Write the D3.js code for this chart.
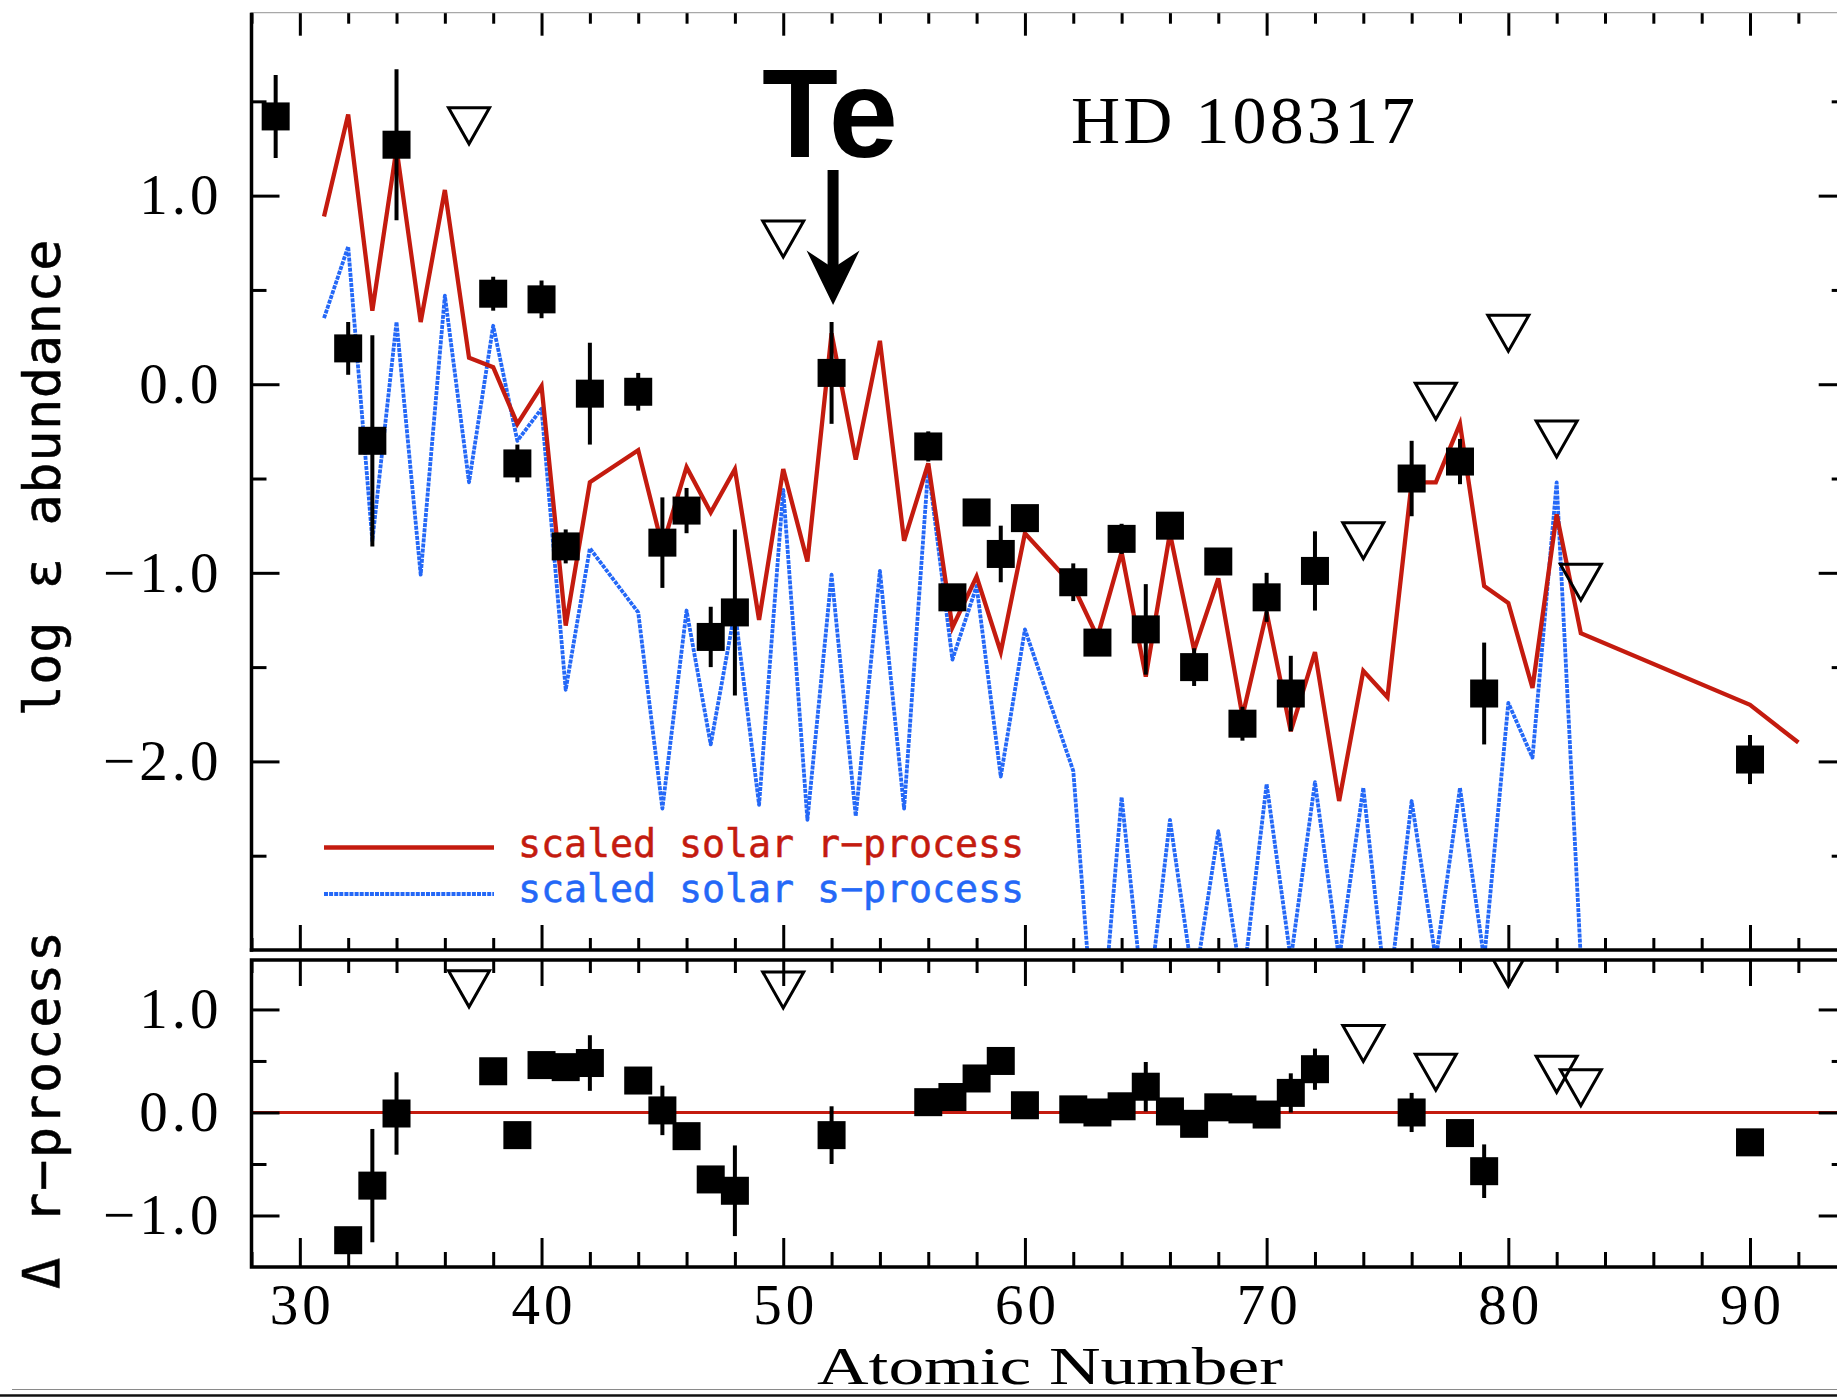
<!DOCTYPE html>
<html><head><meta charset="utf-8">
<script src="https://cdn.jsdelivr.net/npm/d3@7"></script>
<style>
html,body{margin:0;padding:0;background:#fff;}
svg{display:block;}
</style></head><body>
<svg id="chart" width="1837" height="1397"></svg>
<script>
// ---------- DATA ----------
// observed abundances (filled squares) - top panel
const obsZ   = [29,32,33,34,38,39,40,41,42,44,45,46,47,48,52,56,57,58,59,60,62,63,64,65,66,67,68,69,70,71,72,76,78,79,90];
const obsVal = [1.42,0.19,-0.30,1.27,0.48,-0.42,0.45,-0.86,-0.05,-0.04,-0.84,-0.67,-1.34,-1.21,0.06,-0.33,-1.13,-0.68,-0.90,-0.71,-1.05,-1.37,-0.82,-1.30,-0.75,-1.50,-0.94,-1.80,-1.13,-1.64,-0.99,-0.50,-0.41,-1.64,-1.99];
const obsErr = [0.22,0.14,0.56,0.40,0.09,0.10,0.10,0.09,0.27,0.10,0.24,0.12,0.16,0.44,0.27,0.08,0.05,0.05,0.15,0.05,0.10,0.05,0.08,0.24,0.07,0.10,0.07,0.09,0.13,0.20,0.21,0.20,0.12,0.27,0.13];
// upper limits (open triangles) - top panel
const limZ   = [37,50,74,77,80,82,83];
const limVal = [1.37,0.77,-0.83,-0.09,0.27,-0.29,-1.05];
// scaled solar r-process
const rZ   = [31,32,33,34,35,36,37,38,39,40,41,42,44,45,46,47,48,49,50,51,52,53,54,55,56,57,58,59,60,62,63,64,65,66,67,68,69,70,71,72,73,74,75,76,77,78,79,80,81,82,83,90,92];
const rVal = [0.89,1.43,0.39,1.25,0.33,1.03,0.14,0.09,-0.21,-0.01,-1.28,-0.52,-0.35,-0.86,-0.44,-0.68,-0.45,-1.25,-0.45,-0.94,0.27,-0.40,0.23,-0.83,-0.42,-1.29,-1.02,-1.42,-0.79,-1.07,-1.34,-0.89,-1.55,-0.79,-1.41,-1.03,-1.76,-1.21,-1.84,-1.42,-2.21,-1.52,-1.66,-0.52,-0.52,-0.21,-1.07,-1.16,-1.61,-0.69,-1.32,-1.70,-1.90];
// scaled solar s-process
const sZ   = [31,32,33,34,35,36,37,38,39,40,41,42,44,45,46,47,48,49,50,51,52,53,54,55,56,57,58,59,60,62,63,64,65,66,67,68,69,70,71,72,73,74,75,76,77,78,79,80,81,82,83];
const sVal = [0.35,0.73,-0.83,0.33,-1.01,0.47,-0.52,0.31,-0.30,-0.13,-1.62,-0.87,-1.21,-2.25,-1.20,-1.91,-1.20,-2.23,-0.56,-2.31,-1.01,-2.29,-0.99,-2.25,-0.44,-1.46,-1.07,-2.08,-1.30,-2.05,-3.70,-2.19,-3.40,-2.31,-3.20,-2.37,-3.20,-2.12,-3.05,-2.11,-3.05,-2.14,-3.30,-2.21,-3.05,-2.14,-3.05,-1.69,-1.98,-0.52,-3.05];
// delta r-process (bottom panel)
const dZ   = [32,33,34,38,39,40,41,42,44,45,46,47,48,52,56,57,58,59,60,62,63,64,65,66,67,68,69,70,71,72,76,78,79,90];
const dVal = [-1.24,-0.71,-0.01,0.40,-0.22,0.46,0.44,0.48,0.31,0.02,-0.23,-0.65,-0.76,-0.22,0.10,0.15,0.33,0.50,0.07,0.03,0.00,0.06,0.25,0.01,-0.11,0.05,0.03,-0.02,0.19,0.42,0.00,-0.20,-0.57,-0.29];
const dErr = [0.05,0.55,0.40,0.05,0.05,0.05,0.05,0.27,0.05,0.24,0.05,0.10,0.44,0.28,0.05,0.05,0.05,0.10,0.05,0.05,0.05,0.05,0.24,0.05,0.05,0.05,0.05,0.05,0.19,0.20,0.19,0.05,0.26,0.05];
const dLimZ   = [37,50,74,77,80,82,83];
const dLimVal = [1.20,1.19,0.67,0.39,1.40,0.37,0.24];
// ticks
const xMajor = [30,40,50,60,70,80,90];
const xMinor = [28,32,34,36,38,42,44,46,48,52,54,56,58,62,64,66,68,72,74,76,78,82,84,86,88,92,94];
const yTopMajor = [1,0,-1,-2];
const yTopMinor = [1.5,0.5,-0.5,-1.5,-2.5];
const yBotMajor = [1,0,-1];
const yBotMinor = [0.5,-0.5];

// ---------- SETUP ----------
const W = 1837, H = 1397;
const RED = "#c41b0f", BLUE = "#2468f7";
const svg = d3.select("#chart");
svg.append("rect").attr("width", W).attr("height", H).attr("fill", "#fff");

const x = d3.scaleLinear().domain([28, 94]).range([251.5, 1846.7]);
const yTop = d3.scaleLinear().domain([-3, 1.97]).range([950, 12.7]);
const yBot = d3.scaleLinear().domain([-1.5, 1.48]).range([1267, 960]);

const defs = svg.append("defs");
defs.append("clipPath").attr("id", "clipTop").append("rect")
  .attr("x", x(28)).attr("y", yTop(1.97)).attr("width", x(94) - x(28)).attr("height", yTop(-3) - yTop(1.97));
defs.append("clipPath").attr("id", "clipBot").append("rect")
  .attr("x", x(28)).attr("y", yBot(1.48)).attr("width", x(94) - x(28)).attr("height", yBot(-1.5) - yBot(1.48));

const zip = (a, b) => a.map((v, i) => [v, b[i]]);

// ---------- TOP PANEL LINES ----------
const gTop = svg.append("g").attr("clip-path", "url(#clipTop)");
const lineTop = d3.line().x(d => x(d[0])).y(d => yTop(d[1]));
gTop.append("path").datum(zip(sZ, sVal)).attr("d", lineTop)
  .attr("fill", "none").attr("stroke", BLUE).attr("stroke-width", 3.8)
  .attr("stroke-dasharray", "4,1.1").attr("stroke-linejoin", "round");
gTop.append("path").datum(zip(rZ, rVal)).attr("d", lineTop)
  .attr("fill", "none").attr("stroke", RED).attr("stroke-width", 4.3)
  .attr("stroke-linejoin", "miter");

// ---------- BOTTOM PANEL ZERO LINE ----------
const gBot = svg.append("g").attr("clip-path", "url(#clipBot)");
gBot.append("line").attr("x1", x(28)).attr("x2", x(94)).attr("y1", yBot(0)).attr("y2", yBot(0))
  .attr("stroke", RED).attr("stroke-width", 3);

// ---------- MARKERS ----------
function drawPoints(g, Z, V, E, y) {
  const pts = Z.map((z, i) => ({ z, v: V[i], e: E[i] }));
  g.selectAll(null).data(pts).enter().append("line")
    .attr("x1", d => x(d.z)).attr("x2", d => x(d.z))
    .attr("y1", d => y(d.v + d.e)).attr("y2", d => y(d.v - d.e))
    .attr("stroke", "#000").attr("stroke-width", 4);
  g.selectAll(null).data(pts).enter().append("rect")
    .attr("x", d => x(d.z) - 14).attr("y", d => y(d.v) - 14)
    .attr("width", 28).attr("height", 28).attr("fill", "#000");
}
function drawLimits(g, Z, V, y) {
  const pts = Z.map((z, i) => ({ z, v: V[i] }));
  g.selectAll(null).data(pts).enter().append("path")
    .attr("d", d => {
      const cx = x(d.z), cy = y(d.v);
      return `M${cx - 20.5},${cy - 18} L${cx + 20.5},${cy - 18} L${cx},${cy + 18} Z`;
    })
    .attr("fill", "none").attr("stroke", "#000").attr("stroke-width", 3).attr("stroke-linejoin", "miter");
}
drawPoints(gTop, obsZ, obsVal, obsErr, yTop);
drawLimits(gTop, limZ, limVal, yTop);
drawPoints(gBot, dZ, dVal, dErr, yBot);
drawLimits(gBot, dLimZ, dLimVal, yBot);

// ---------- AXES / FRAMES ----------
function styleTicks(g, w) {
  g.select(".domain").remove();
  g.selectAll(".tick line").attr("stroke", "#000").attr("stroke-width", w);
  g.selectAll(".tick text").remove();
}
function tickSet(axisFn, scale, values, len, tx, ty) {
  const g = svg.append("g").attr("transform", `translate(${tx},${ty})`)
    .call(axisFn(scale).tickValues(values).tickSize(-len).tickFormat(() => ""));
  styleTicks(g, 3);
}
tickSet(d3.axisTop, x, xMajor, 23, 0, yTop(1.97));
tickSet(d3.axisTop, x, xMinor, 11, 0, yTop(1.97));
tickSet(d3.axisBottom, x, xMajor, 25, 0, yTop(-3));
tickSet(d3.axisBottom, x, xMinor, 12, 0, yTop(-3));
tickSet(d3.axisTop, x, xMajor, 26, 0, yBot(1.48));
tickSet(d3.axisTop, x, xMinor, 13, 0, yBot(1.48));
tickSet(d3.axisBottom, x, xMajor, 29, 0, yBot(-1.5));
tickSet(d3.axisBottom, x, xMinor, 15, 0, yBot(-1.5));
tickSet(d3.axisLeft, yTop, yTopMajor, 28, x(28), 0);
tickSet(d3.axisLeft, yTop, yTopMinor, 15, x(28), 0);
tickSet(d3.axisRight, yTop, yTopMajor, 28, x(94), 0);
tickSet(d3.axisRight, yTop, yTopMinor, 15, x(94), 0);
tickSet(d3.axisLeft, yBot, yBotMajor, 28, x(28), 0);
tickSet(d3.axisLeft, yBot, yBotMinor, 15, x(28), 0);
tickSet(d3.axisRight, yBot, yBotMajor, 28, x(94), 0);
tickSet(d3.axisRight, yBot, yBotMinor, 15, x(94), 0);

// frames
svg.append("line").attr("x1", x(28)).attr("x2", W).attr("y1", yTop(1.97)).attr("y2", yTop(1.97))
  .attr("stroke", "#a8a8a8").attr("stroke-width", 1.3);
svg.append("line").attr("x1", x(28)).attr("x2", x(28)).attr("y1", yTop(1.97)).attr("y2", yTop(-3) + 1.75)
  .attr("stroke", "#000").attr("stroke-width", 3.5);
svg.append("line").attr("x1", x(28) - 1.75).attr("x2", x(94)).attr("y1", yTop(-3)).attr("y2", yTop(-3))
  .attr("stroke", "#000").attr("stroke-width", 3.5);
svg.append("rect").attr("x", x(28)).attr("y", yBot(1.48)).attr("width", x(94) - x(28)).attr("height", yBot(-1.5) - yBot(1.48))
  .attr("fill", "none").attr("stroke", "#000").attr("stroke-width", 3.5);

// tick labels via axes
const FONT_SERIF = "'Liberation Serif','Times New Roman',serif";
const FONT_MONO = "'DejaVu Sans Mono','Liberation Mono',monospace";
function labelAxis(axisFn, scale, values, pad, tx, ty) {
  const g = svg.append("g").attr("transform", `translate(${tx},${ty})`)
    .call(axisFn(scale).tickValues(values).tickSize(0).tickPadding(pad).tickFormat(d3.format(".1f")));
  g.select(".domain").remove();
  g.selectAll(".tick line").remove();
  g.selectAll(".tick text").attr("font-family", FONT_SERIF).attr("font-size", 57)
    .attr("fill", "#000").style("letter-spacing", "4px");
  return g;
}
labelAxis(d3.axisLeft, yTop, yTopMajor, 29, x(28), 0);
labelAxis(d3.axisLeft, yBot, yBotMajor, 29, x(28), 0);
const gx = svg.append("g").attr("transform", `translate(0,${yBot(-1.5)})`)
  .call(d3.axisBottom(x).tickValues(xMajor).tickSize(0).tickPadding(17).tickFormat(d3.format("d")));
gx.select(".domain").remove();
gx.selectAll(".tick text").attr("font-family", FONT_SERIF).attr("font-size", 57).attr("fill", "#000")
  .attr("dx", 2).style("letter-spacing", "4px");

// ---------- TEXTS ----------
svg.append("text").attr("transform", "translate(60,478) rotate(-90)")
  .attr("text-anchor", "middle").attr("font-family", FONT_MONO).attr("font-size", 52)
  .attr("fill", "#000").attr("stroke", "#000").attr("stroke-width", 0.5)
  .attr("textLength", 477).attr("lengthAdjust", "spacing")
  .text("log ε abundance");
svg.append("text").attr("transform", "translate(60,1110) rotate(-90)")
  .attr("text-anchor", "middle").attr("font-family", FONT_MONO).attr("font-size", 52)
  .attr("fill", "#000").attr("stroke", "#000").attr("stroke-width", 0.5)
  .attr("textLength", 358).attr("lengthAdjust", "spacing")
  .text("Δ r−process");

svg.append("text").attr("x", 1050).attr("y", 1384).attr("text-anchor", "middle")
  .attr("font-family", FONT_SERIF).attr("font-size", 53).attr("fill", "#000")
  .attr("textLength", 466).attr("lengthAdjust", "spacingAndGlyphs")
  .text("Atomic Number");

svg.append("text").attr("x", 1071).attr("y", 143).attr("font-family", FONT_SERIF)
  .attr("font-size", 68).attr("fill", "#000").attr("textLength", 344).attr("lengthAdjust", "spacing")
  .text("HD 108317");

// legend
const legend = [
  { label: "scaled solar r−process", color: RED, dash: null, w: 4.3, ly: 847.5, ty: 856.5 },
  { label: "scaled solar s−process", color: BLUE, dash: "4,1.1", w: 3.8, ly: 894, ty: 901.5 }
];
legend.forEach(l => {
  svg.append("line").attr("x1", 324).attr("x2", 494).attr("y1", l.ly).attr("y2", l.ly)
    .attr("stroke", l.color).attr("stroke-width", l.w).attr("stroke-dasharray", l.dash);
  svg.append("text").attr("x", 518).attr("y", l.ty)
    .attr("font-family", FONT_MONO).attr("font-size", 38.4).attr("fill", l.color)
    .attr("stroke", l.color).attr("stroke-width", 0.5)
    .attr("textLength", 506).attr("lengthAdjust", "spacing")
    .text(l.label);
});

// Te annotation
const teX = x(52) + 1.5;
svg.append("text").attr("x", teX - 71).attr("y", 157).attr("font-family", "'Liberation Sans',Arial,sans-serif")
  .attr("font-weight", "bold").attr("font-size", 127).attr("fill", "#000")
  .attr("textLength", 136).attr("lengthAdjust", "spacingAndGlyphs").text("Te");
svg.append("line").attr("x1", teX).attr("x2", teX).attr("y1", 170).attr("y2", 275)
  .attr("stroke", "#000").attr("stroke-width", 11);
svg.append("path").attr("d", `M${teX - 26.5},250.5 L${teX},268 L${teX + 26.5},250.5 L${teX},305 Z`)
  .attr("fill", "#000");

// image border lines at bottom
svg.append("line").attr("x1", 12).attr("x2", W).attr("y1", 1389.5).attr("y2", 1389.5)
  .attr("stroke", "#8a8a8a").attr("stroke-width", 1);
svg.append("line").attr("x1", 0).attr("x2", W).attr("y1", 1395.5).attr("y2", 1395.5)
  .attr("stroke", "#111").attr("stroke-width", 2.5);
</script>
</body></html>
